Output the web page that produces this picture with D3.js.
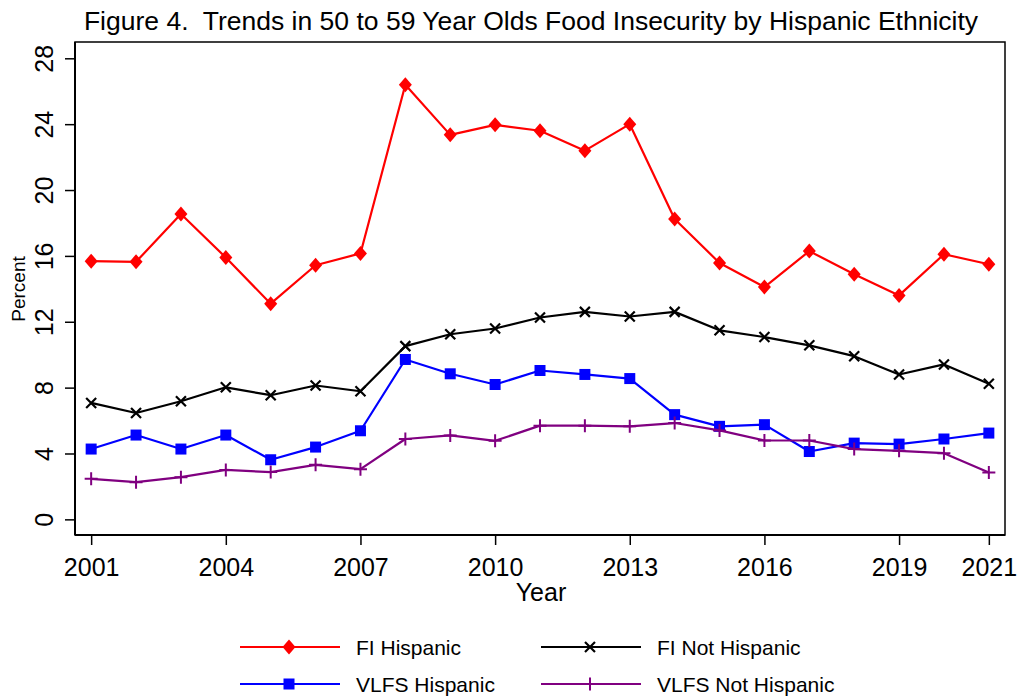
<!DOCTYPE html>
<html>
<head>
<meta charset="utf-8">
<script src="https://cdn.jsdelivr.net/npm/d3@7"></script>
<style>
  html, body { margin: 0; padding: 0; background: #fff; }
  svg { display: block; font-family: "Liberation Sans", Arial, sans-serif; }
  .title { white-space: pre; }
</style>
</head>
<body>
<svg id="chart" width="1021" height="698"></svg>
<script>
// Survey years and series (percent of 50–59 year olds)
const years = d3.range(2001, 2022);
const fiHispanic     = [15.68, 15.64, 18.54, 15.9, 13.1, 15.43, 16.15, 26.39, 23.35, 23.96, 23.6, 22.39, 24.0, 18.24, 15.57, 14.11, 16.29, 14.89, 13.6, 16.1, 15.49];
const fiNotHispanic  = [7.07, 6.46, 7.17, 8.02, 7.54, 8.13, 7.78, 10.52, 11.24, 11.59, 12.26, 12.6, 12.32, 12.6, 11.48, 11.07, 10.57, 9.91, 8.8, 9.41, 8.23];
const vlfsHispanic   = [4.27, 5.12, 4.27, 5.12, 3.62, 4.39, 5.38, 9.71, 8.84, 8.19, 9.04, 8.8, 8.55, 6.36, 5.65, 5.75, 4.12, 4.63, 4.57, 4.88, 5.24];
const vlfsNotHispanic= [2.46, 2.26, 2.56, 3.0, 2.87, 3.31, 3.05, 4.88, 5.1, 4.77, 5.69, 5.69, 5.65, 5.85, 5.4, 4.79, 4.79, 4.27, 4.16, 4.02, 2.84];

const xTicks = [2001, 2004, 2007, 2010, 2013, 2016, 2019, 2021];
const yTicks = [0, 4, 8, 12, 16, 20, 24, 28];

const seriesNames  = ["FI Hispanic", "FI Not Hispanic", "VLFS Hispanic", "VLFS Not Hispanic"];
const seriesValues = [fiHispanic, fiNotHispanic, vlfsHispanic, vlfsNotHispanic];
const seriesColors = ["#ff0000", "#000000", "#0000ff", "#800080"];
const seriesSymbols = ["diamond", "x", "square", "plus"];

const svg = d3.select("#chart");
const plot = { left: 75, right: 1005, top: 42, bottom: 535 };

const x = d3.scaleLinear().domain([2000.64, 2021.36]).range([plot.left, plot.right]);
const y = d3.scaleLinear().domain([-0.95, 28.99]).range([plot.bottom, plot.top]);

// Title
svg.append("text")
  .attr("class", "title")
  .attr("x", 531).attr("y", 30)
  .attr("text-anchor", "middle")
  .attr("font-size", 26.5)
  .text("Figure 4.  Trends in 50 to 59 Year Olds Food Insecurity by Hispanic Ethnicity");

// Plot frame
svg.append("rect")
  .attr("x", plot.left).attr("y", plot.top)
  .attr("width", plot.right - plot.left).attr("height", plot.bottom - plot.top)
  .attr("fill", "none").attr("stroke", "#000").attr("stroke-width", 1.5);

// Y axis
const yAxis = d3.axisLeft(y).tickValues(yTicks).tickSize(10).tickPadding(0).tickFormat(d3.format("d"));
const gy = svg.append("g").attr("transform", `translate(${plot.left},0)`).call(yAxis);
gy.select(".domain").attr("stroke-width", 2).attr("d", `M0,${plot.top}V${plot.bottom}`);
gy.selectAll(".tick line").attr("stroke-width", 1.5);
gy.selectAll(".tick text")
  .attr("font-size", 25).attr("font-family", "Liberation Sans, Arial, sans-serif")
  .attr("fill", "#000")
  .attr("x", null).attr("dy", null)
  .attr("text-anchor", "middle")
  .attr("transform", "translate(-22,0) rotate(-90)");

// X axis
const xAxis = d3.axisBottom(x).tickValues(xTicks).tickSize(10).tickPadding(0).tickFormat(d3.format("d"));
const gx = svg.append("g").attr("transform", `translate(0,${plot.bottom})`).call(xAxis);
gx.select(".domain").attr("stroke-width", 2).attr("d", `M${plot.left},0H${plot.right}`);
gx.selectAll(".tick line").attr("stroke-width", 1.5);
gx.selectAll(".tick text")
  .attr("font-size", 25).attr("font-family", "Liberation Sans, Arial, sans-serif")
  .attr("fill", "#000")
  .attr("dy", null).attr("y", 41);

// Axis titles
svg.append("text")
  .attr("x", 541).attr("y", 601)
  .attr("text-anchor", "middle").attr("font-size", 25)
  .text("Year");
svg.append("text")
  .attr("transform", "translate(25,289) rotate(-90)")
  .attr("text-anchor", "middle").attr("font-size", 19)
  .text("Percent");

// Marker drawing
function drawMarker(g, type, color) {
  if (type === "diamond") {
    g.append("path").attr("d", "M0,-7.5L6.5,0L0,7.5L-6.5,0Z").attr("fill", color);
  } else if (type === "square") {
    g.append("rect").attr("x", -5.5).attr("y", -5.5).attr("width", 11).attr("height", 11).attr("fill", color);
  } else if (type === "x") {
    g.append("path").attr("d", "M-5,-5L5,5M-5,5L5,-5").attr("stroke", color).attr("stroke-width", 2.2).attr("fill", "none");
  } else if (type === "plus") {
    g.append("path").attr("d", "M-6.5,0H6.5M0,-6.5V6.5").attr("stroke", color).attr("stroke-width", 2).attr("fill", "none");
  }
}

const line = d3.line().x(d => x(d[0])).y(d => y(d[1]));

seriesValues.forEach((vals, i) => {
  const pts = years.map((yr, j) => [yr, vals[j]]);
  const g = svg.append("g");
  g.append("path")
    .attr("d", line(pts))
    .attr("fill", "none")
    .attr("stroke", seriesColors[i])
    .attr("stroke-width", 2.2)
    .attr("stroke-linejoin", "round");
  pts.forEach(p => {
    const m = g.append("g").attr("transform", `translate(${x(p[0])},${y(p[1])})`);
    drawMarker(m, seriesSymbols[i], seriesColors[i]);
  });
});

// Legend (2 x 2)
const legendCols = [240, 541];
const legendRows = [647, 684];
seriesNames.forEach((name, i) => {
  const cx = legendCols[i % 2];
  const cy = legendRows[Math.floor(i / 2)];
  const g = svg.append("g");
  g.append("line")
    .attr("x1", cx).attr("x2", cx + 100)
    .attr("y1", cy).attr("y2", cy)
    .attr("stroke", seriesColors[i]).attr("stroke-width", 2.2);
  const m = g.append("g").attr("transform", `translate(${cx + 49},${cy})`);
  drawMarker(m, seriesSymbols[i], seriesColors[i]);
  g.append("text")
    .attr("x", cx + 116).attr("y", cy + 8)
    .attr("font-size", 21)
    .text(name);
});
</script>
</body>
</html>
